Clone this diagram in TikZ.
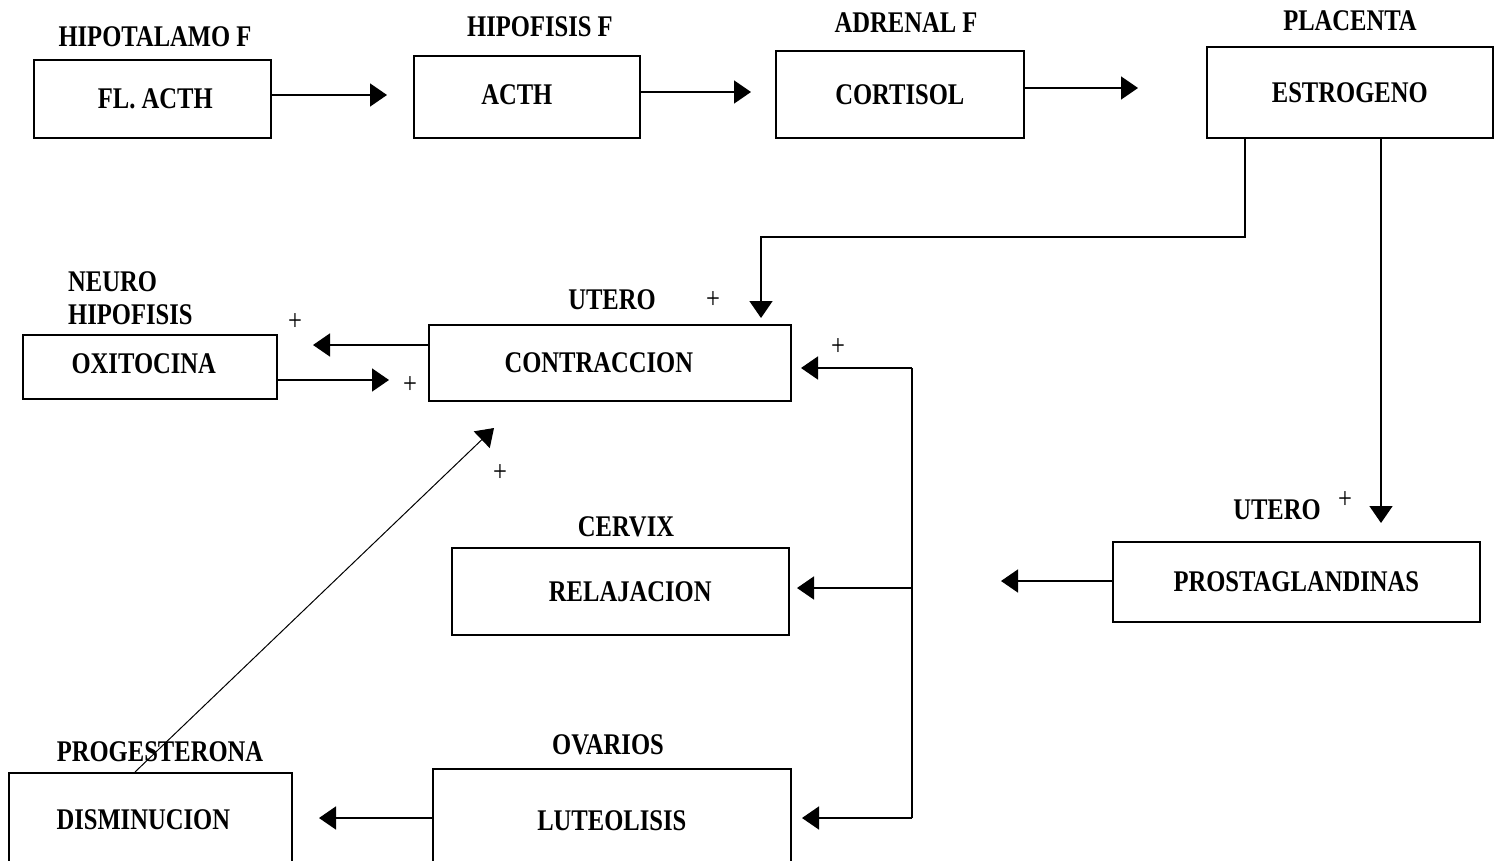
\documentclass[tikz,border=0pt]{standalone}
\usepackage{fontspec}
\setmainfont{Liberation Serif}[FakeStretch=0.82]
\usetikzlibrary{arrows.meta}
\begin{document}
\begin{tikzpicture}[x=1pt,y=-1pt,
  box/.style={draw, line width=1.6pt, inner sep=0pt, anchor=north west, font=\fontsize{30}{32}\selectfont\bfseries},
  lab/.style={inner sep=0pt, font=\fontsize{30}{32}\selectfont\bfseries},
  plus/.style={inner sep=0pt, font=\fontsize{30}{32}\selectfont},
  ln/.style={line width=1.6pt},
  arr/.style={line width=1.6pt, -{Triangle[length=17pt,width=23pt]}},
  thinarr/.style={line width=1pt, -{Triangle[length=17pt,width=23pt]}}]
\useasboundingbox (0,0) rectangle (1501,861);

% boxes
\node[box, minimum width=237pt, minimum height=78pt] (fl) at (33,59) {\hspace*{6pt}FL. ACTH};
\node[box, minimum width=226pt, minimum height=82pt] (acth) at (413,55) {\hspace*{-20pt}\raisebox{5pt}{ACTH}};
\node[box, minimum width=248pt, minimum height=87pt] (cort) at (775,50) {CORTISOL};
\node[box, minimum width=286pt, minimum height=91pt] (estr) at (1206,46) {ESTROGENO};
\node[box, minimum width=362pt, minimum height=76pt] (contr) at (428,324) {\hspace*{-22pt}CONTRACCION};
\node[box, minimum width=254pt, minimum height=64pt] (oxi) at (22,334) {\hspace*{-12pt}\raisebox{6pt}{OXITOCINA}};
\node[box, minimum width=337pt, minimum height=87pt] (rel) at (451,547) {\hspace*{20pt}\raisebox{-4pt}{RELAJACION}};
\node[box, minimum width=358pt, minimum height=104pt] (lut) at (432,768) {LUTEOLISIS};
\node[box, minimum width=283pt, minimum height=94pt] (dism) at (8,772) {\hspace*{-14pt}DISMINUCION};
\node[box, minimum width=367pt, minimum height=80pt] (prost) at (1112,541) {\raisebox{-2pt}{PROSTAGLANDINAS}};

% labels
\node[lab] (l1) at (155,37) {HIPOTALAMO F};
\node[lab] (l2) at (540,27) {HIPOFISIS F};
\node[lab] (l3) at (906,23) {ADRENAL F};
\node[lab] (l4) at (1350,21) {PLACENTA};
\node[lab] (l5) at (612,300) {UTERO};
\node[lab, anchor=west, align=left, font=\fontsize{30}{33}\selectfont\bfseries] (l6) at (68,298) {NEURO\\HIPOFISIS};
\node[lab] (l7) at (626,527) {CERVIX};
\node[lab] (l8) at (608,745) {OVARIOS};
\node[lab] (l9) at (160,752) {PROGESTERONA};
\node[lab] (l10) at (1277,510) {UTERO};

% plus signs
\node[plus] (p1) at (713,300) {+};
\node[plus] (p2) at (295,322) {+};
\node[plus] (p3) at (410,385) {+};
\node[plus] (p4) at (838,347) {+};
\node[plus] (p5) at (500,473) {+};
\node[plus] (p6) at (1345,500) {+};

% coordinates
\coordinate (t1) at (387,95);
\coordinate (t2) at (751,92);
\coordinate (t3) at (1138,88);
\coordinate (e1) at (1245,237);
\coordinate (t4) at (761,318);
\coordinate (t5) at (1381,523);
\coordinate (t6) at (313,345);
\coordinate (t7) at (389,380);
\coordinate (b1) at (912,368);
\coordinate (b3) at (912,818);
\coordinate (t8) at (801,368);
\coordinate (t9) at (797,588);
\coordinate (t10) at (802,818);
\coordinate (t11) at (1001,581);
\coordinate (t12) at (319,818);
\coordinate (d0) at (135,772);
\coordinate (t13) at (494,428);

% connectors
\draw[arr] (fl.east |- t1) -- (t1);
\draw[arr] (acth.east |- t2) -- (t2);
\draw[arr] (cort.east |- t3) -- (t3);
\draw[arr] (estr.south -| e1) -- (e1) -- (e1 -| t4) -- (t4);
\draw[arr] (estr.south -| t5) -- (t5);
\draw[arr] (contr.west |- t6) -- (t6);
\draw[arr] (oxi.east |- t7) -- (t7);
\draw[ln] (b1) -- (b3);
\draw[arr] (b1) -- (t8);
\draw[arr] (b1 |- t9) -- (t9);
\draw[arr] (b3) -- (t10);
\draw[arr] (prost.west |- t11) -- (t11);
\draw[arr] (lut.west |- t12) -- (t12);
\draw[thinarr] (dism.north -| d0) -- (t13);
\end{tikzpicture}
\end{document}
